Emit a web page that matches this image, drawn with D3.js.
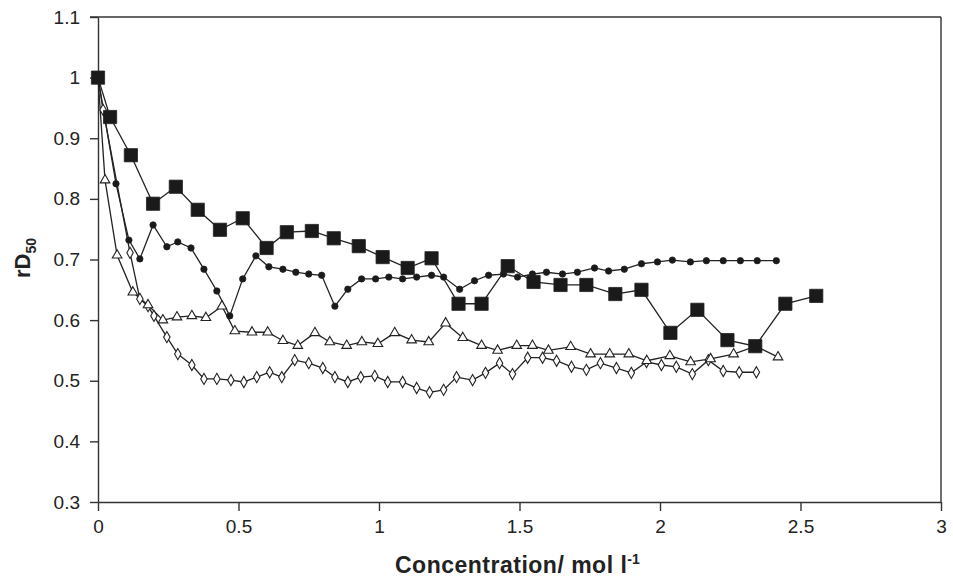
<!DOCTYPE html>
<html>
<head>
<meta charset="utf-8">
<script src="https://d3js.org/d3.v7.min.js"></script>
<style>
  body { margin: 0; background: #fff; }
  .axis text { font-family: "Liberation Sans", Arial, sans-serif; font-size: 19px; fill: #222; }
  .axis path, .axis line { stroke: #333; stroke-width: 1.4; }
  .axis-title { font-family: "Liberation Sans", Arial, sans-serif; font-weight: bold; fill: #222; }
  .line { fill: none; stroke: #222; stroke-width: 1.3; }
</style>
</head>
<body>
<svg id="chart" width="953" height="581"></svg>
<script>
// filled squares
var squareX = [0, 0.043, 0.117, 0.196, 0.277, 0.355, 0.434, 0.515, 0.6, 0.672, 0.761, 0.839, 0.928, 1.013, 1.102, 1.187, 1.283, 1.365, 1.458, 1.55, 1.646, 1.738, 1.841, 1.934, 2.037, 2.133, 2.24, 2.339, 2.446, 2.556];
var squareY = [1.0, 0.935, 0.872, 0.792, 0.820, 0.782, 0.749, 0.768, 0.719, 0.745, 0.747, 0.735, 0.722, 0.704, 0.686, 0.702, 0.627, 0.627, 0.689, 0.663, 0.658, 0.658, 0.643, 0.650, 0.579, 0.617, 0.567, 0.557, 0.627, 0.640];
// filled circles
var circleX = [0, 0.064, 0.11, 0.149, 0.196, 0.245, 0.284, 0.331, 0.377, 0.423, 0.469, 0.515, 0.562, 0.608, 0.658, 0.704, 0.75, 0.796, 0.843, 0.889, 0.938, 0.988, 1.035, 1.084, 1.134, 1.187, 1.23, 1.287, 1.34, 1.39, 1.443, 1.493, 1.546, 1.596, 1.653, 1.706, 1.767, 1.817, 1.873, 1.934, 1.991, 2.044, 2.108, 2.165, 2.225, 2.286, 2.346, 2.414];
var circleY = [1.0, 0.825, 0.732, 0.701, 0.757, 0.721, 0.729, 0.719, 0.684, 0.648, 0.607, 0.668, 0.706, 0.688, 0.684, 0.679, 0.676, 0.674, 0.623, 0.651, 0.668, 0.668, 0.671, 0.668, 0.671, 0.674, 0.671, 0.651, 0.665, 0.674, 0.676, 0.671, 0.676, 0.679, 0.676, 0.679, 0.686, 0.681, 0.684, 0.693, 0.696, 0.699, 0.696, 0.698, 0.698, 0.698, 0.698, 0.698];
// open triangles
var triangleX = [0, 0.025, 0.068, 0.124, 0.178, 0.231, 0.281, 0.334, 0.384, 0.441, 0.487, 0.548, 0.604, 0.658, 0.711, 0.772, 0.825, 0.885, 0.939, 0.996, 1.056, 1.116, 1.177, 1.237, 1.298, 1.365, 1.422, 1.49, 1.546, 1.603, 1.682, 1.753, 1.821, 1.889, 1.953, 2.035, 2.109, 2.18, 2.262, 2.34, 2.42];
var triangleY = [1.0, 0.831, 0.707, 0.646, 0.625, 0.600, 0.605, 0.607, 0.604, 0.623, 0.582, 0.580, 0.580, 0.566, 0.558, 0.579, 0.564, 0.558, 0.564, 0.561, 0.579, 0.567, 0.564, 0.595, 0.571, 0.558, 0.550, 0.558, 0.558, 0.550, 0.556, 0.544, 0.544, 0.544, 0.533, 0.541, 0.531, 0.536, 0.544, 0.557, 0.539];
// open diamonds
var diamondX = [0, 0.018, 0.114, 0.149, 0.178, 0.199, 0.245, 0.284, 0.334, 0.377, 0.423, 0.473, 0.519, 0.565, 0.611, 0.654, 0.7, 0.75, 0.8, 0.843, 0.889, 0.935, 0.985, 1.031, 1.084, 1.134, 1.18, 1.23, 1.276, 1.333, 1.379, 1.429, 1.475, 1.529, 1.582, 1.632, 1.685, 1.738, 1.788, 1.845, 1.898, 1.952, 2.005, 2.058, 2.115, 2.172, 2.225, 2.282, 2.343];
var diamondY = [1.0, 0.947, 0.711, 0.635, 0.623, 0.607, 0.572, 0.544, 0.526, 0.503, 0.503, 0.501, 0.498, 0.506, 0.514, 0.506, 0.534, 0.529, 0.521, 0.506, 0.498, 0.506, 0.508, 0.498, 0.498, 0.488, 0.481, 0.485, 0.506, 0.501, 0.513, 0.529, 0.511, 0.538, 0.538, 0.533, 0.523, 0.518, 0.529, 0.521, 0.513, 0.531, 0.526, 0.523, 0.511, 0.534, 0.516, 0.514, 0.514];

var xTicks = [0, 0.5, 1, 1.5, 2, 2.5, 3];
var yTicks = [0.3, 0.4, 0.5, 0.6, 0.7, 0.8, 0.9, 1, 1.1];

var svg = d3.select("#chart"),
    margin = {top: 17, right: 12, bottom: 79, left: 98},
    width = +svg.attr("width") - margin.left - margin.right,
    height = +svg.attr("height") - margin.top - margin.bottom;

var x = d3.scaleLinear().domain([0, 3]).range([0, width]);
var y = d3.scaleLinear().domain([0.3, 1.1]).range([height, 0]);

var g = svg.append("g")
    .attr("transform", "translate(" + margin.left + "," + margin.top + ")");

function zip(xs, ys) {
  return xs.map(function(d, i) { return {x: d, y: ys[i]}; });
}

// frame top and right
g.append("line").attr("x1", -8).attr("x2", width).attr("y1", 0).attr("y2", 0)
    .attr("stroke", "#333").attr("stroke-width", 1.4);
g.append("line").attr("x1", width).attr("x2", width).attr("y1", 0).attr("y2", height)
    .attr("stroke", "#333").attr("stroke-width", 1.4);

g.append("g")
    .attr("class", "axis axis--x")
    .attr("transform", "translate(0," + height + ")")
    .call(d3.axisBottom(x).tickValues(xTicks).tickSize(9).tickSizeOuter(0).tickPadding(9)
      .tickFormat(function(d) { return String(d); }));

g.append("g")
    .attr("class", "axis axis--y")
    .call(d3.axisLeft(y).tickValues(yTicks).tickSize(8).tickSizeOuter(0).tickPadding(10)
      .tickFormat(function(d) { return String(+d.toFixed(1)); }));

// axis titles
var xt = svg.append("text")
    .attr("class", "axis-title")
    .attr("x", 395)
    .attr("y", 573)
    .style("font-size", "23px")
    .style("letter-spacing", "0.5px");
xt.append("tspan").text("Concentration/ mol l");
xt.append("tspan").attr("dy", "-9").style("font-size", "14px").style("letter-spacing", "0px").text("-1");

var yt = svg.append("text")
    .attr("class", "axis-title")
    .attr("transform", "translate(30,258) rotate(-90)")
    .attr("text-anchor", "middle")
    .style("font-size", "22px");
yt.append("tspan").text("rD");
yt.append("tspan").attr("dy", "6").style("font-size", "14px").text("50");

var line = d3.line()
    .x(function(d) { return x(d.x); })
    .y(function(d) { return y(d.y); });

var series = [
  {data: zip(diamondX, diamondY), shape: "diamond"},
  {data: zip(triangleX, triangleY), shape: "triangle"},
  {data: zip(circleX, circleY), shape: "circle"},
  {data: zip(squareX, squareY), shape: "square"}
];

series.forEach(function(s) {
  g.append("path")
      .datum(s.data)
      .attr("class", "line")
      .attr("d", line);
});

series.forEach(function(s) {
  var sym, size, fill;
  if (s.shape === "square") { sym = d3.symbolSquare; size = 175; fill = "#1a1a1a"; }
  else if (s.shape === "circle") { sym = d3.symbolCircle; size = 32; fill = "#1a1a1a"; }
  else if (s.shape === "triangle") { sym = d3.symbolTriangle; size = 40; fill = "#fff"; }
  else { sym = d3.symbolDiamond; size = 36; fill = "#fff"; }
  g.selectAll(".pt-" + s.shape)
      .data(s.data)
      .enter().append("path")
      .attr("class", "pt-" + s.shape)
      .attr("transform", function(d) { return "translate(" + x(d.x) + "," + y(d.y) + ")"; })
      .attr("d", d3.symbol().type(sym).size(size))
      .attr("fill", fill)
      .attr("stroke", "#222")
      .attr("stroke-width", s.shape === "square" || s.shape === "circle" ? 0.8 : 1.1);
});
</script>
</body>
</html>
